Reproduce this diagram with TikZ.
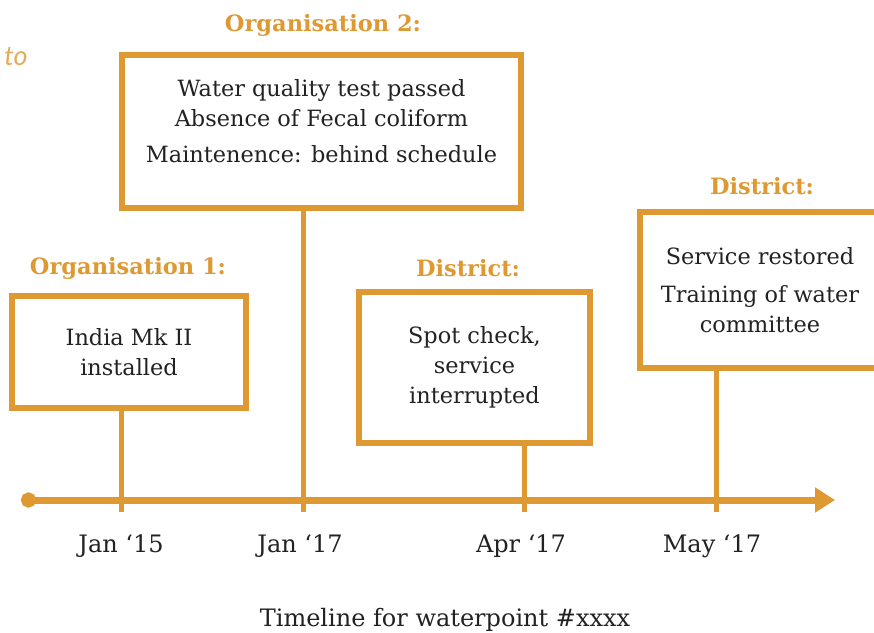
\documentclass[tikz,border=0pt]{standalone}
\usepackage{fontspec}
\setmainfont{DejaVu Serif}
\newfontfamily\tofont{Lato}
\usetikzlibrary{arrows.meta,positioning}
\definecolor{ochre}{RGB}{222,153,51}
\definecolor{ink}{RGB}{34,34,34}
\tikzset{
  card/.style={draw=ochre, line width=6pt, fill=white, align=center, text=ink,
    font=\fontsize{22.4}{30}\selectfont},
  heading/.style={text=ochre, font=\fontsize{22.5}{26}\selectfont\bfseries},
  stem/.style={draw=ochre, line width=5pt},
  datelabel/.style={text=ink, font=\fontsize{24}{28}\selectfont}
}
\begin{document}
\begin{tikzpicture}[x=1pt,y=1pt]
\useasboundingbox (0,0) rectangle (874,632);
\clip (0,0) rectangle (874,632);
\fill[white] (0,0) rectangle (874,632);
% timeline and ticks
\coordinate (start) at (21,132);
\coordinate (end) at (835,132);
\coordinate (t1) at (121,120);
\coordinate (t2) at (303,120);
\coordinate (t3) at (524,120);
\coordinate (t4) at (716,120);
\draw[ochre, line width=7pt, {Circle[length=15pt]}-{Triangle[length=20pt,width=24pt]}] (start) -- (end);
% cards
\node[card, minimum width=234pt, minimum height=112pt] (b1) at (129,280) {India Mk II\\installed};
\node[card, minimum width=399pt, minimum height=153pt] (b2) at (321.5,500.5) {Water quality test passed\\Absence of Fecal coliform\\[6pt]Maintenence: behind schedule\\[-8pt]};
\node[card, minimum width=231pt, minimum height=151pt] (b3) at (474.5,264.5) {Spot check,\\service\\interrupted};
\node[card, minimum width=240pt, minimum height=156pt] (b4) at (760,342) {Service restored\\[8pt]Training of water\\committee};
\node[heading] (h1) at (128,364) {Organisation 1:};
\node[heading] (h2) at (323,607) {Organisation 2:};
\node[heading] (h3) at (468,364) {District:};
\node[heading] (h4) at (762,446) {District:};
\draw[stem] (b1.south -| t1) -- (t1);
\draw[stem] (b2.south -| t2) -- (t2);
\draw[stem] (b3.south -| t3) -- (t3);
\draw[stem] (b4.south -| t4) -- (t4);
% dates
\node[datelabel] (d1) at (121,86) {Jan ‘15};
\node[datelabel] (d2) at (300,86) {Jan ‘17};
\node[datelabel] (d3) at (521,86) {Apr ‘17};
\node[datelabel] (d4) at (712,86) {May ‘17};
\node[datelabel] (caption) at (445,12) {Timeline for waterpoint \#xxxx};
\node[text=ochre!80, font=\tofont\itshape\fontsize{27}{30}\selectfont] (to) at (16,575) {to};
\end{tikzpicture}
\end{document}
